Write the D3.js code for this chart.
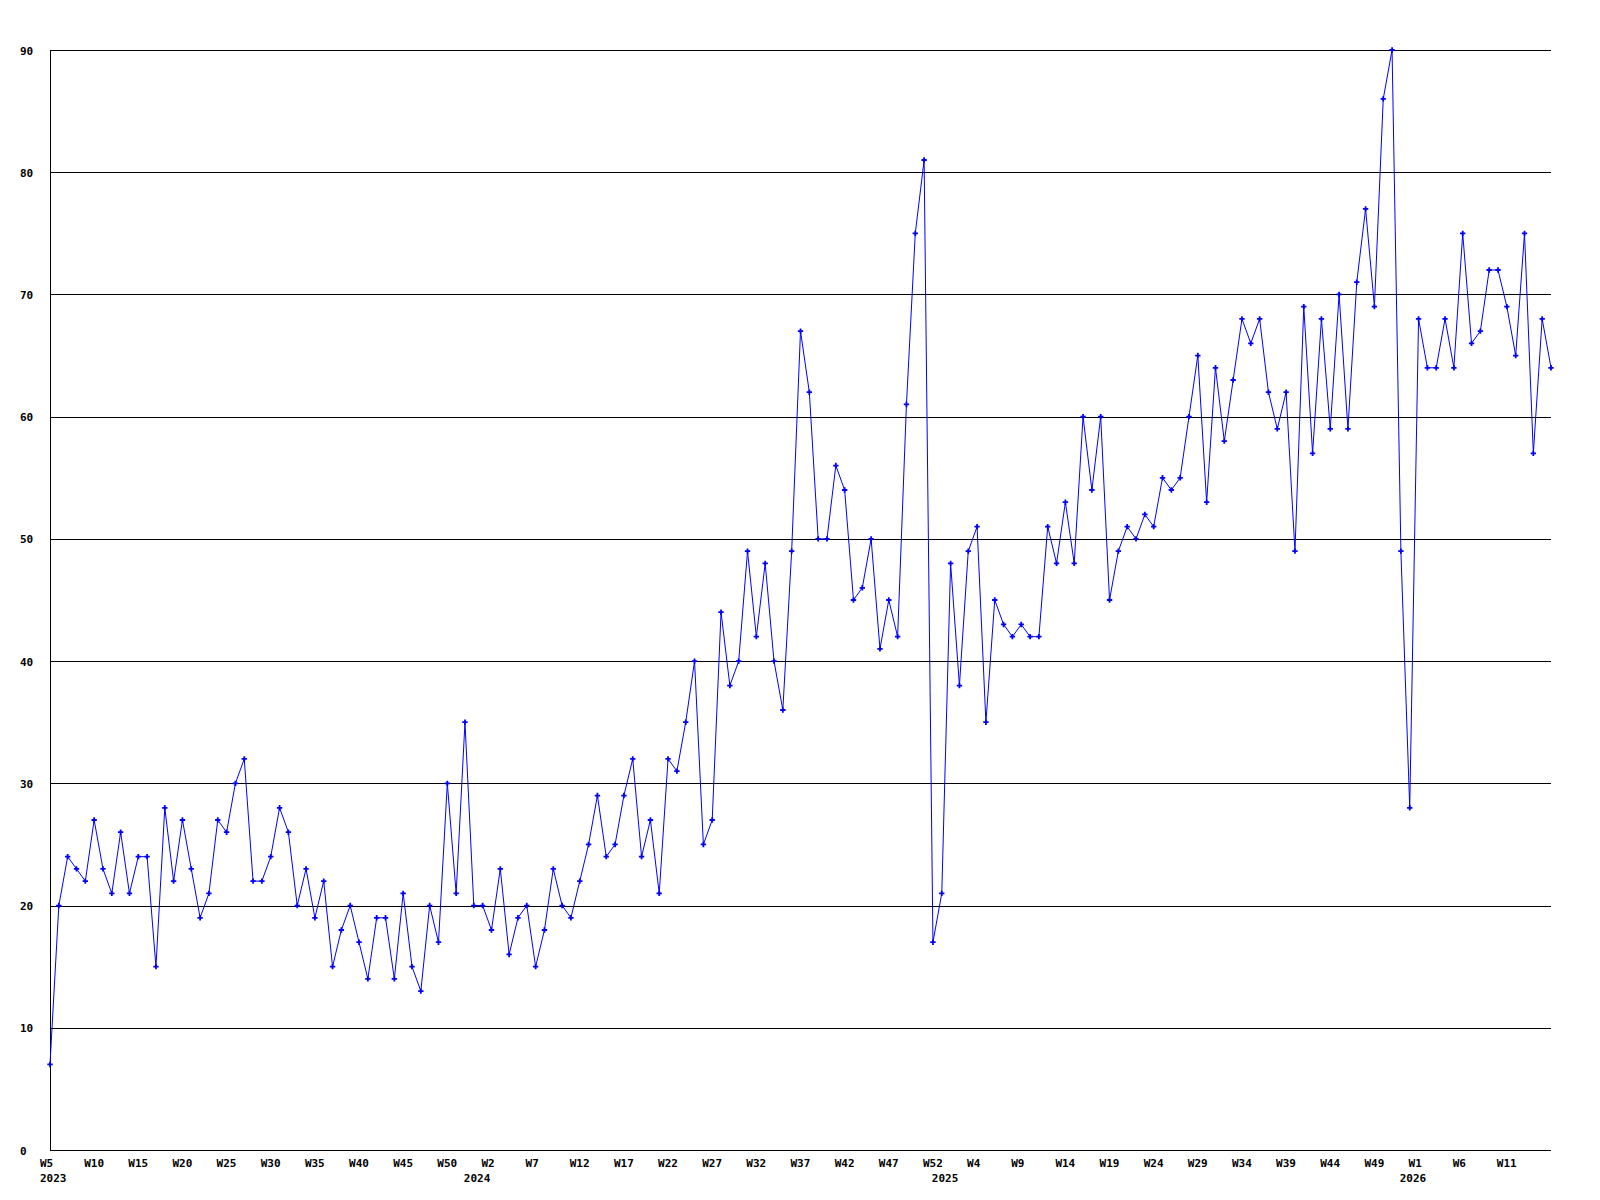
<!DOCTYPE html>
<html>
<head>
<meta charset="utf-8">
<script src="https://cdn.jsdelivr.net/npm/d3@7"></script>
<style>
  body { margin: 0; background: #ffffff; }
  text { font-family: "DejaVu Sans Mono", monospace; font-weight: bold; font-size: 11px; fill: #000000; }
</style>
</head>
<body>
<div id="chart"></div>
<script>
// weekly counts, 2023 W5 .. 2026 W16 (each year starts with a W0 stub week)
var values = [
  7, 20, 24, 23, 22, 27, 23, 21, 26, 21, 24, 24, 15, 28, 22, 27, 23, 19, 21, 27,
  26, 30, 32, 22, 22, 24, 28, 26, 20, 23, 19, 22, 15, 18, 20, 17, 14, 19, 19, 14,
  21, 15, 13, 20, 17, 30, 21, 35,
  20, 20, 18, 23, 16, 19, 20, 15, 18, 23, 20, 19, 22, 25, 29, 24, 25, 29, 32, 24,
  27, 21, 32, 31, 35, 40, 25, 27, 44, 38, 40, 49, 42, 48, 40, 36, 49, 67, 62, 50,
  50, 56, 54, 45, 46, 50, 41, 45, 42, 61, 75, 81, 17,
  21, 48, 38, 49, 51, 35, 45, 43, 42, 43, 42, 42, 51, 48, 53, 48, 60, 54, 60, 45,
  49, 51, 50, 52, 51, 55, 54, 55, 60, 65, 53, 64, 58, 63, 68, 66, 68, 62, 59, 62,
  49, 69, 57, 68, 59, 70, 59, 71, 77, 69, 86, 90, 49,
  28, 68, 64, 64, 68, 64, 75, 66, 67, 72, 72, 69, 65, 75, 57, 68, 64
];

// one label every 5th point
var weekTicks = [
  "W5", "W10", "W15", "W20", "W25", "W30", "W35", "W40", "W45", "W50",
  "W2", "W7", "W12", "W17", "W22", "W27", "W32", "W37", "W42", "W47", "W52",
  "W4", "W9", "W14", "W19", "W24", "W29", "W34", "W39", "W44", "W49",
  "W1", "W6", "W11"
];
var years = ["2023", "2024", "2025", "2026"];
var yearStart = [0, 48, 101, 154];

var yTicks = [0, 10, 20, 30, 40, 50, 60, 70, 80, 90];

var chartWidth = 1600;
var chartHeight = 1200;
var plotLeft = 50, plotRight = 1551, plotTop = 50, plotBottom = 1150;
var lineColor = "#0000ff";

var svg = d3.select("#chart")
            .append("svg")
            .attr("width", chartWidth)
            .attr("height", chartHeight);

var x = d3.scaleLinear()
          .domain([0, values.length - 1])
          .range([plotLeft, plotRight]);
var y = d3.scaleLinear()
          .domain([0, 90])
          .range([plotBottom, plotTop]);

// grid lines
svg.append("g")
   .selectAll("line")
   .data(yTicks.filter(function(d){ return d > 0; }))
   .enter()
   .append("line")
   .attr("x1", plotLeft)
   .attr("x2", plotRight)
   .attr("y1", function(d){ return Math.round(y(d)) + 0.5; })
   .attr("y2", function(d){ return Math.round(y(d)) + 0.5; })
   .attr("stroke", "#000000")
   .attr("stroke-width", 1)
   .attr("shape-rendering", "crispEdges");

// axes
svg.append("line")
   .attr("x1", plotLeft + 0.5).attr("x2", plotLeft + 0.5)
   .attr("y1", plotTop).attr("y2", plotBottom + 1)
   .attr("stroke", "#000000")
   .attr("shape-rendering", "crispEdges");
svg.append("line")
   .attr("x1", plotLeft).attr("x2", plotRight)
   .attr("y1", plotBottom + 0.5).attr("y2", plotBottom + 0.5)
   .attr("stroke", "#000000")
   .attr("shape-rendering", "crispEdges");

// y labels
svg.append("g")
   .selectAll("text")
   .data(yTicks)
   .enter()
   .append("text")
   .attr("x", 20)
   .attr("y", function(d){ return y(d) + 4.5; })
   .text(function(d){ return d; });

// x labels
svg.append("g")
   .selectAll("text")
   .data(weekTicks)
   .enter()
   .append("text")
   .attr("x", function(d, i){ return x(i * 5) - 10; })
   .attr("y", 1167)
   .text(function(d){ return d; });

svg.append("g")
   .selectAll("text")
   .data(years)
   .enter()
   .append("text")
   .attr("x", function(d, i){ return x(yearStart[i]) - 10; })
   .attr("y", 1182)
   .text(function(d){ return d; });

// series
var line = d3.line()
             .x(function(d, i){ return x(i); })
             .y(function(d){ return y(d); });

svg.append("path")
   .datum(values)
   .attr("d", line)
   .attr("fill", "none")
   .attr("stroke", lineColor)
   .attr("stroke-width", 1);

svg.append("g")
   .selectAll("path")
   .data(values)
   .enter()
   .append("path")
   .attr("d", d3.symbol().type(d3.symbolCross).size(16))
   .attr("transform", function(d, i){ return "translate(" + x(i) + "," + y(d) + ")"; })
   .attr("fill", lineColor);
</script>
</body>
</html>
